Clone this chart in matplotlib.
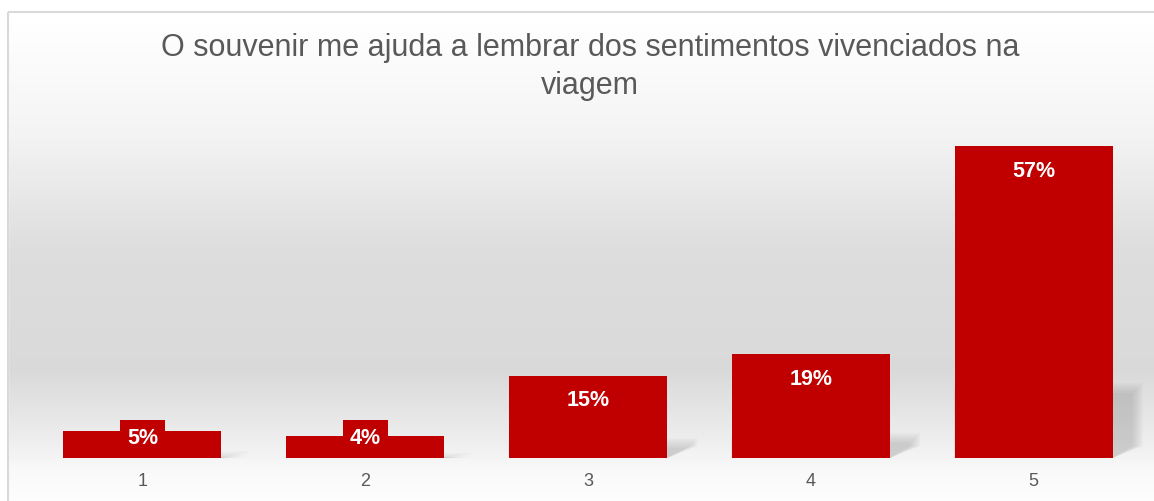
import matplotlib
matplotlib.use("Agg")
import matplotlib.pyplot as plt
import numpy as np
from matplotlib.patches import Polygon, Rectangle

categories = ["1", "2", "3", "4", "5"]
values = [5, 4, 15, 19, 57]
title = "O souvenir me ajuda a lembrar dos sentimentos vivenciados na\nviagem"

BAR_COLOR = "#C00000"
TEXT_GRAY = "#595959"
W, H = 1154, 501

plt.rcParams["font.family"] = ["Liberation Sans", "DejaVu Sans"]

fig = plt.figure(figsize=(W / 100, H / 100), dpi=100)

# background: vertical grey gradient inside a thin frame
bg = fig.add_axes([0, 0, 1, 1], zorder=0)
bg.set_axis_off()
ys = [0, 12, 130, 250, 370, 440, 470, 501]
gs = [1.0, 1.0, 0.955, 0.865, 0.85, 0.93, 0.975, 0.99]
rows = np.interp(np.arange(H), ys, gs)
img = np.repeat(rows[:, None], 2, axis=1)
bg.imshow(img, cmap="gray", vmin=0, vmax=1, aspect="auto", extent=[0, W, H, 0])
bg.add_patch(Rectangle((0, 0), W, 12, color="white"))
bg.add_patch(Rectangle((0, 0), 8, H, color="white"))
bg.add_patch(Rectangle((8, 12), W + 20, H + 20, fill=False, edgecolor="#d9d9d9", lw=1.5))
bg.set_xlim(0, W)
bg.set_ylim(H, 0)

ax = fig.add_axes([31 / W, (H - 458) / H, 1114 / W, 328 / H], zorder=1)
ax.patch.set_alpha(0)
x = np.arange(len(categories))
width = 0.71
ax.set_xlim(-0.5, len(categories) - 0.5)
ax.set_ylim(0, 60)

ppu = 328 / 60  # pixels per data unit (y)
ppx = 1114 / len(categories)  # pixels per category (x)

# soft shadows behind the bars, built from stacked translucent wedges
for xi, v in zip(x, values):
    xl, xr = xi - width / 2, xi + width / 2
    hs = 0.24 * v
    d = 30 / ppx
    c = min(hs, 12 / ppu)
    for grow in range(10, -1, -2):
        gx, gy = grow / ppx, grow / ppu
        top = max(hs - gy, 0.2)
        pts = [(xl, 0), (xl, top), (xr + d - gx, top), (xr + d - gx, min(c, top)), (xr, 0)]
        ax.add_patch(Polygon(pts, closed=True, facecolor="#707070", edgecolor="none",
                             alpha=0.05, zorder=2))

ax.bar(x, values, width=width, color=BAR_COLOR, zorder=3)

for xi, v in zip(x, values):
    y = max(v - 25 / ppu, 20 / ppu)
    ax.text(xi, y, f"{v}%", ha="center", va="center", color="white", fontsize=15.5,
            fontweight="bold", zorder=4,
            bbox=dict(boxstyle="square,pad=0.33", fc=BAR_COLOR, ec="none"))

ax.set_xticks(x, categories)
ax.set_yticks([])
ax.tick_params(axis="x", length=0, pad=11, labelsize=13, labelcolor=TEXT_GRAY)
for spine in ax.spines.values():
    spine.set_visible(False)

fig.text(590 / W, 1 - 67 / H, title, ha="center", va="center", fontsize=22,
         color=TEXT_GRAY, linespacing=1.32)

fig.savefig("out.png", dpi=100)
